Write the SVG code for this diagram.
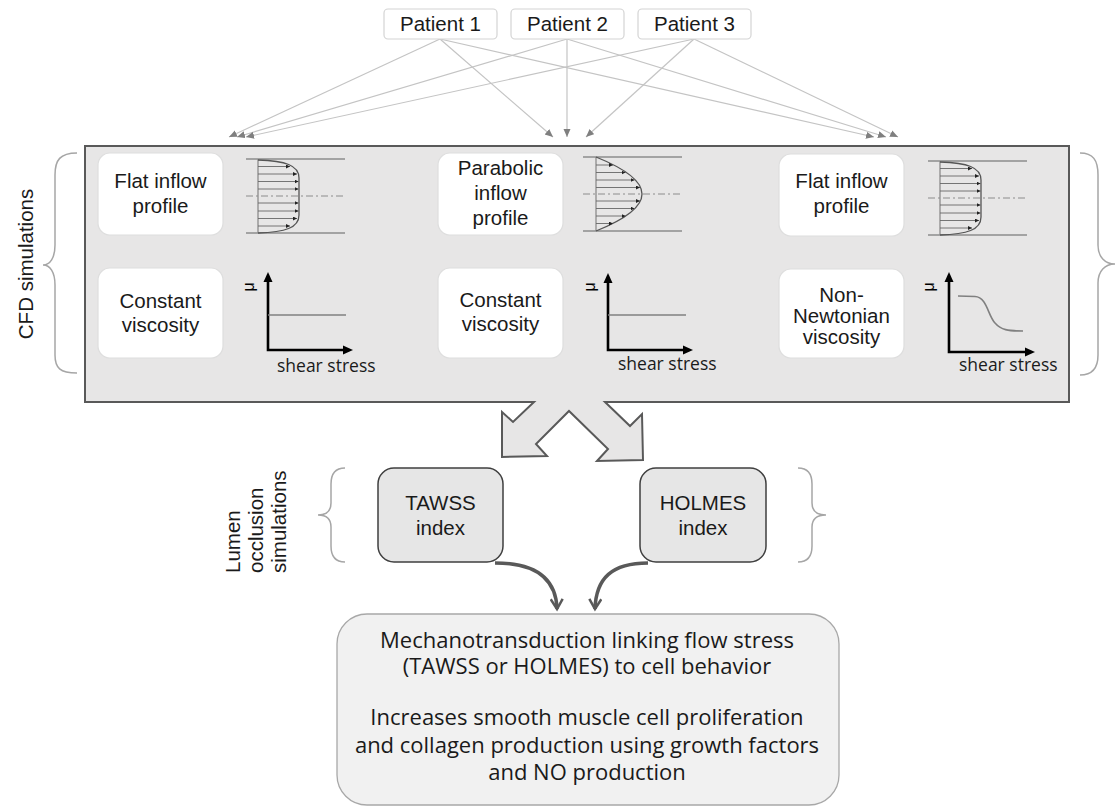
<svg xmlns="http://www.w3.org/2000/svg" width="1118" height="807" viewBox="0 0 1118 807">
<defs>
<style>
.pbox{fill:#fff;stroke:#d4d4d4;stroke-width:1.2}
.wbox{fill:#fff;stroke:#dedede;stroke-width:1.2}
.gbox{fill:#e6e6e6;stroke:#3f3f3f;stroke-width:1.5}
.lbl{font-family:"Liberation Sans",Arial,sans-serif;font-size:20.5px;fill:#1a1a1a;text-anchor:middle}
.side{font-family:"Liberation Sans",Arial,sans-serif;font-size:20.5px;fill:#1a1a1a}
.conn{stroke:#c4c4c4;stroke-width:1.2;fill:none;marker-end:url(#ag)}
.wall{stroke:#8c8c8c;stroke-width:1.3}
.cline{stroke:#8c8c8c;stroke-width:1;stroke-dasharray:7 3 2 3}
.prof{stroke:#555;stroke-width:1.3;fill:none}
.parr{stroke:#666;stroke-width:0.9;marker-end:url(#as)}
.axis{stroke:#000;stroke-width:2.6;fill:none;marker-start:url(#ax);marker-end:url(#ax)}
.visc{stroke:#808080;stroke-width:1.6;fill:none}
.ss{font-family:"Open Sans",sans-serif;font-size:17.5px;fill:#1a1a1a}
.mu{font-family:"Liberation Sans",sans-serif;font-size:16px;fill:#000;text-anchor:middle}
.brace{stroke:#a6a6a6;stroke-width:1.5;fill:none}
.curve{stroke:#595959;stroke-width:3.5;fill:none;marker-end:url(#ac)}
.btxt{font-family:"Open Sans",sans-serif;font-size:22px;fill:#1a1a1a;text-anchor:middle}
</style>
<marker id="ag" markerUnits="userSpaceOnUse" markerWidth="9" markerHeight="8" refX="8" refY="3.5" orient="auto"><path d="M0,0 L8,3.5 L0,7 z" fill="#7f7f7f"/></marker>
<marker id="as" markerUnits="userSpaceOnUse" markerWidth="5" markerHeight="4" refX="4" refY="2" orient="auto"><path d="M0,0 L4,2 L0,4 z" fill="#222"/></marker>
<marker id="ax" markerUnits="userSpaceOnUse" markerWidth="11" markerHeight="10" refX="0" refY="5" orient="auto-start-reverse"><path d="M0,0.5 L10,5 L0,9.5 z" fill="#000"/></marker>
<marker id="ac" markerUnits="userSpaceOnUse" markerWidth="14" markerHeight="14" refX="11" refY="7" orient="auto"><path d="M1,1 L11,7 L1,13" fill="none" stroke="#595959" stroke-width="2.5"/></marker>
<g id="flat">
<line class="wall" x1="246" y1="159" x2="345" y2="159"/>
<line class="wall" x1="246" y1="233" x2="345" y2="233"/>
<line class="cline" x1="246" y1="196" x2="345" y2="196"/>
<line class="wall" x1="258" y1="159" x2="258" y2="233"/>
<path class="prof" d="M258,160 C285,161 299,165 299,178 L299,215 C299,228 285,232 258,233"/>
<line class="parr" x1="258" y1="166.5" x2="290" y2="166.5"/>
<line class="parr" x1="258" y1="174" x2="297" y2="174"/>
<line class="parr" x1="258" y1="181.5" x2="298.5" y2="181.5"/>
<line class="parr" x1="258" y1="189" x2="298.5" y2="189"/>
<line class="parr" x1="258" y1="203" x2="298.5" y2="203"/>
<line class="parr" x1="258" y1="211" x2="298.5" y2="211"/>
<line class="parr" x1="258" y1="218.5" x2="297" y2="218.5"/>
<line class="parr" x1="258" y1="226" x2="290" y2="226"/>
</g>
</defs>
<rect width="1118" height="807" fill="#fff"/>

<g id="connectors">
<line class="conn" x1="440" y1="39" x2="229" y2="137"/>
<line class="conn" x1="440" y1="39" x2="553" y2="137"/>
<line class="conn" x1="440" y1="39" x2="874" y2="137"/>
<line class="conn" x1="567" y1="39" x2="237" y2="137"/>
<line class="conn" x1="567" y1="39" x2="567" y2="137"/>
<line class="conn" x1="567" y1="39" x2="886" y2="137"/>
<line class="conn" x1="694" y1="39" x2="246" y2="137"/>
<line class="conn" x1="694" y1="39" x2="586" y2="137"/>
<line class="conn" x1="694" y1="39" x2="898" y2="137"/>
<path class="curve" d="M495,563 C535,563 556,578 557,609"/>
<path class="curve" d="M648,563 C612,563 596,578 595,609"/>
</g>

<g id="patient1"><rect class="pbox" x="384" y="9" width="113" height="30" rx="4"/><text class="lbl" x="440.5" y="31">Patient 1</text></g>
<g id="patient2"><rect class="pbox" x="511" y="9" width="113" height="30" rx="4"/><text class="lbl" x="567.5" y="31">Patient 2</text></g>
<g id="patient3"><rect class="pbox" x="638" y="9" width="113" height="30" rx="4"/><text class="lbl" x="694.5" y="31">Patient 3</text></g>

<g id="cfd-panel">
<path d="M85,146 H1069 V402 H605 L630,426 L642,414 L643,460 L597,461 L608,449 L569,411 L536,444 L547,456 L502,457 L502,412 L513,422 L534,402 H85 Z" fill="#e7e6e6" stroke="#595959" stroke-width="2" stroke-linejoin="miter"/>
</g>

<g id="cfd-label">
<path class="brace" d="M77,153 C60,153 55,160 55,175 L55,245 C55,258 50,265 43,265 C50,265 55,272 55,285 L55,355 C55,368 60,373 77,373"/>
<text class="side" text-anchor="middle" transform="translate(33,264) rotate(-90)">CFD simulations</text>
<path class="brace" d="M1080,153 C1093,153 1098,160 1098,175 L1098,245 C1098,257 1105,264 1115,264 C1105,264 1098,271 1098,283 L1098,355 C1098,368 1093,375 1080,375"/>
</g>

<g id="flat-inflow-1">
<rect class="wbox" x="98" y="153" width="125" height="82" rx="12"/>
<text class="lbl" x="160.5" y="188">Flat inflow</text>
<text class="lbl" x="160.5" y="213">profile</text>
<use href="#flat"/>
</g>
<g id="constant-viscosity-1">
<rect class="wbox" x="98" y="268" width="125" height="90" rx="12"/>
<text class="lbl" x="160.5" y="308">Constant</text>
<text class="lbl" x="160.5" y="332">viscosity</text>
<path class="axis" d="M268,282 V350 H343"/>
<line class="visc" x1="268" y1="315" x2="346" y2="315"/>
<text class="mu" transform="translate(254,287) rotate(-90)">μ</text>
<text class="ss" x="277" y="372">shear stress</text>
</g>

<g id="parabolic-inflow">
<rect class="wbox" x="438" y="153" width="125" height="82" rx="12"/>
<text class="lbl" x="500.5" y="175">Parabolic</text>
<text class="lbl" x="500.5" y="200">inflow</text>
<text class="lbl" x="500.5" y="225">profile</text>
<line class="wall" x1="583" y1="157" x2="682" y2="157"/>
<line class="wall" x1="583" y1="231" x2="682" y2="231"/>
<line class="cline" x1="583" y1="194" x2="682" y2="194"/>
<line class="wall" x1="596" y1="157" x2="596" y2="231"/>
<path class="prof" d="M596,157 Q688,194 596,231"/>
<line class="parr" x1="596" y1="165" x2="613" y2="165"/>
<line class="parr" x1="596" y1="172.5" x2="625.5" y2="172.5"/>
<line class="parr" x1="596" y1="180" x2="634.5" y2="180"/>
<line class="parr" x1="596" y1="187.5" x2="640" y2="187.5"/>
<line class="parr" x1="596" y1="201" x2="640" y2="201"/>
<line class="parr" x1="596" y1="208.5" x2="634.5" y2="208.5"/>
<line class="parr" x1="596" y1="216" x2="625.5" y2="216"/>
<line class="parr" x1="596" y1="223.5" x2="613" y2="223.5"/>
</g>
<g id="constant-viscosity-2">
<rect class="wbox" x="438" y="268" width="125" height="90" rx="12"/>
<text class="lbl" x="500.5" y="307">Constant</text>
<text class="lbl" x="500.5" y="331">viscosity</text>
<path class="axis" d="M608,283 V350 H683"/>
<line class="visc" x1="608" y1="315" x2="686" y2="315"/>
<text class="mu" transform="translate(595,287) rotate(-90)">μ</text>
<text class="ss" x="618" y="370">shear stress</text>
</g>

<g id="flat-inflow-2">
<rect class="wbox" x="779" y="154" width="125" height="82" rx="12"/>
<text class="lbl" x="841.5" y="188">Flat inflow</text>
<text class="lbl" x="841.5" y="213">profile</text>
<use href="#flat" transform="translate(682,2)"/>
</g>
<g id="non-newtonian-viscosity">
<rect class="wbox" x="779" y="269" width="125" height="89" rx="12"/>
<text class="lbl" x="841.5" y="302">Non-</text>
<text class="lbl" x="841.5" y="323">Newtonian</text>
<text class="lbl" x="841.5" y="344">viscosity</text>
<path class="axis" d="M949,282 V352 H1025"/>
<path class="visc" d="M958,296 L975,296.5 C987,297 988,316 995,323 C1001,330 1008,331 1023,331"/>
<text class="mu" transform="translate(934,287) rotate(-90)">μ</text>
<text class="ss" x="959" y="371">shear stress</text>
</g>

<g id="lumen-label">
<path class="brace" d="M345,468 C335,468 331,474 331,484 L331,503 C331,511 326,515 318,515 C326,515 331,519 331,527 L331,546 C331,556 335,562 345,562"/>
<text class="side" transform="translate(240,573) rotate(-90)">Lumen</text>
<text class="side" transform="translate(263,573) rotate(-90)">occlusion</text>
<text class="side" transform="translate(286,573) rotate(-90)">simulations</text>
<path class="brace" d="M798,468 C808,468 812,474 812,484 L812,503 C812,511 817,515 826,515 C817,515 812,519 812,527 L812,546 C812,556 808,562 798,562"/>
</g>

<g id="tawss">
<rect class="gbox" x="378" y="468" width="125" height="94" rx="16"/>
<text class="lbl" x="440.5" y="510">TAWSS</text>
<text class="lbl" x="440.5" y="535">index</text>
</g>
<g id="holmes">
<rect class="gbox" x="640" y="468" width="126" height="94" rx="16"/>
<text class="lbl" x="703" y="510">HOLMES</text>
<text class="lbl" x="703" y="535">index</text>
</g>

<g id="mechanotransduction">
<rect x="337" y="614" width="502" height="191" rx="30" fill="#f1f1f1" stroke="#a8a8a8" stroke-width="1.3"/>
<text class="btxt" x="587" y="648">Mechanotransduction linking flow stress</text>
<text class="btxt" x="587" y="674">(TAWSS or HOLMES) to cell behavior</text>
<text class="btxt" x="587" y="725">Increases smooth muscle cell proliferation</text>
<text class="btxt" x="587" y="753">and collagen production using growth factors</text>
<text class="btxt" x="587" y="780">and NO production</text>
</g>
</svg>
